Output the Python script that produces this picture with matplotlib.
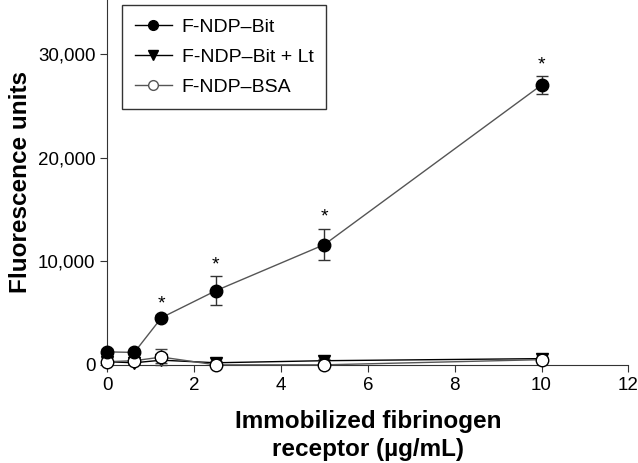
import matplotlib
matplotlib.use('Agg')
import matplotlib.pyplot as plt
from matplotlib.lines import Line2D

plt.rcParams['font.family'] = ['Liberation Sans', 'DejaVu Sans']

conc = [0, 0.625, 1.25, 2.5, 5, 10]

bit = [1250, 1200, 4550, 7150, 11600, 27000]
bit_err = [250, 200, 250, 1400, 1500, 850]

bit_lt = [300, 200, 450, 200, 400, 600]
bit_lt_err = [150, 100, 250, 150, 150, 150]

bsa = [300, 400, 750, 0, 0, 500]
bsa_err = [100, 100, 800, 50, 50, 200]

star_idx = [2, 3, 4, 5]

fig = plt.figure(figsize=(6.38, 4.63), dpi=100)
ax = fig.add_axes([0.168, 0.212, 0.817, 0.788])

lc = '#555555'
ax.errorbar(conc, bit_lt, yerr=bit_lt_err, color='black', marker='v', ms=8,
            mfc='black', mec='black', lw=1, ecolor='#444444', capsize=4,
            zorder=3, clip_on=False)
ax.errorbar(conc, bsa, yerr=bsa_err, color=lc, marker='o', ms=9,
            mfc='white', mec='black', lw=1, ecolor='#444444', capsize=4,
            zorder=4, clip_on=False)
ax.errorbar(conc, bit, yerr=bit_err, color=lc, marker='o', ms=9,
            mfc='black', mec='black', lw=1, ecolor='#333333', capsize=4,
            zorder=5, clip_on=False)

for i in star_idx:
    ax.text(conc[i], bit[i] + bit_err[i] + 300, '*', ha='center', va='bottom',
            fontsize=14)

ax.set_xlim(0, 12)
ax.set_ylim(0, 35200)
ax.set_xticks([0, 2, 4, 6, 8, 10, 12])
ax.set_yticks([0, 10000, 20000, 30000])
ax.set_yticklabels(['0', '10,000', '20,000', '30,000'])
ax.tick_params(labelsize=13.5, direction='out', length=5, color='#333333')
ax.spines['top'].set_visible(False)
ax.spines['right'].set_visible(False)
ax.spines['left'].set_color('#333333')
ax.spines['bottom'].set_color('#333333')

ax.set_ylabel('Fluorescence units', fontsize=17.5, fontweight='bold', labelpad=4)
ax.set_xlabel('Immobilized fibrinogen\nreceptor (\u00b5g/mL)', fontsize=17.5,
              fontweight='bold', labelpad=12, linespacing=1.25)

handles = [
    Line2D([], [], color='black', lw=1, marker='o', ms=7, mfc='black', mec='black'),
    Line2D([], [], color='black', lw=1, marker='v', ms=7, mfc='black', mec='black'),
    Line2D([], [], color='#555555', lw=1, marker='o', ms=7, mfc='white', mec='#555555'),
]
labels = ['F-NDP\u2013Bit', 'F-NDP\u2013Bit + Lt', 'F-NDP\u2013BSA']
leg = ax.legend(handles, labels, loc='upper left', bbox_to_anchor=(0.029, 0.985),
                fontsize=14, frameon=True, fancybox=False, edgecolor='black',
                handlelength=1.9, handletextpad=0.5, borderpad=0.65,
                labelspacing=0.65, borderaxespad=0)
leg.get_frame().set_linewidth(1)

fig.savefig('out.png', dpi=100)
